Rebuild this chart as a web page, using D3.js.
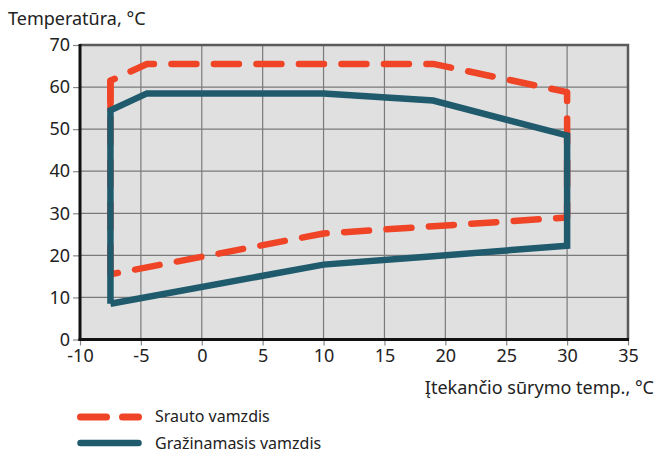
<!DOCTYPE html>
<html><head><meta charset="utf-8">
<script src="https://cdn.jsdelivr.net/npm/d3@7"></script>
<style>body{margin:0;background:#fff}svg{display:block}text{font-family:"Noto Sans",sans-serif;fill:#222}</style>
</head><body><div id="chart"></div>
<script>
const xTicks = [-10,-5,0,5,10,15,20,25,30,35];
const yTicks = [0,10,20,30,40,50,60,70];
const seriesNames = ["Srauto vamzdis","Gražinamasis vamzdis"];
const flowX = [-7.5,-7.5,-4.5,19,30,30,10,-7.5];
const flowY = [15.5,61.5,65.5,65.5,58.8,29,25.2,15.5];
const returnX = [-7.5,-7.5,-4.5,10,19,30,30,19,10,-7.5];
const returnY = [8.5,54.5,58.5,58.5,56.8,48.5,22.3,19.8,17.8,8.5];
const yTitle = "Temperatūra, °C";
const xTitle = "Įtekančio sūrymo temp., °C";

const W=657,H=457;
const svg=d3.select("#chart").append("svg").attr("width",W).attr("height",H);
const x=d3.scaleLinear().domain([-10,35]).range([80,628]);
const y=d3.scaleLinear().domain([0,70]).range([339.5,45]);
const red="#f04426", blue="#1f5a6d";

svg.append("rect").attr("x",x(-10)).attr("y",y(70)).attr("width",x(35)-x(-10)).attr("height",y(0)-y(70)).attr("fill","#e0e0e0");
// grid
svg.append("g").selectAll("line").data(xTicks.slice(1,-1)).join("line")
 .attr("x1",d=>x(d)).attr("x2",d=>x(d)).attr("y1",y(70)).attr("y2",y(0)).attr("stroke","#7a7a7a").attr("stroke-width",1.2);
svg.append("g").selectAll("line").data(yTicks.slice(1,-1)).join("line")
 .attr("y1",d=>y(d)).attr("y2",d=>y(d)).attr("x1",x(-10)).attr("x2",x(35)).attr("stroke","#7a7a7a").attr("stroke-width",1.2);
// top/right border
svg.append("path").attr("d",`M${x(-10)},${y(70)}H${x(35)}V${y(0)}`).attr("fill","none").attr("stroke","#5a5a5a").attr("stroke-width",2.5);

// axes
const ax=svg.append("g").attr("transform",`translate(0,${y(0)})`).call(d3.axisBottom(x).tickValues(xTicks).tickSize(6).tickPadding(4).tickFormat(d3.format("d")));
const ay=svg.append("g").attr("transform",`translate(${x(-10)},0)`).call(d3.axisLeft(y).tickValues(yTicks).tickSize(7).tickPadding(3));
[ax,ay].forEach(g=>{g.select(".domain").remove();g.selectAll(".tick line").attr("stroke","#888").attr("stroke-width",1.2);
 g.selectAll("text").style("font-size","18px").style("font-family","'Noto Sans',sans-serif").attr("fill","#222");});
ax.selectAll("text").text(d=>d<0?"-"+Math.abs(d):d);
svg.append("line").attr("x1",x(-10)).attr("x2",x(-10)).attr("y1",y(70)-1).attr("y2",y(0)+1.5).attr("stroke","#111").attr("stroke-width",3);
svg.append("line").attr("x1",x(-10)-1.5).attr("x2",x(35)+1).attr("y1",y(0)).attr("y2",y(0)).attr("stroke","#111").attr("stroke-width",3);

const line=d3.line().x(d=>x(d[0])).y(d=>y(d[1]));
svg.append("path").attr("d",line(flowX.map((v,i)=>[v,flowY[i]]))).attr("fill","none").attr("stroke",red)
 .attr("stroke-width",6.5).attr("stroke-linecap","round").attr("stroke-linejoin","round").attr("stroke-dasharray","25,17.5").attr("stroke-dashoffset",39.3);
// solid stub of the flow line at the left edge, above the return line
svg.append("path").attr("d",line([[flowX[1],returnY[1]],[flowX[1],flowY[1]]])).attr("fill","none").attr("stroke",red)
 .attr("stroke-width",6.5).attr("stroke-linecap","round");
svg.append("path").attr("d",line(returnX.map((v,i)=>[v,returnY[i]]))).attr("fill","none").attr("stroke",blue)
 .attr("stroke-width",6.5).attr("stroke-linejoin","miter");

svg.append("text").attr("x",8).attr("y",25).style("font-size","18px").text(yTitle);
svg.append("text").attr("x",654).attr("y",394).attr("text-anchor","end").style("font-size","18px").text(xTitle);

// legend
svg.append("line").attr("x1",80.5).attr("x2",138.5).attr("y1",417).attr("y2",417).attr("stroke",red).attr("stroke-width",7)
 .attr("stroke-linecap","round").attr("stroke-dasharray","26,16");
svg.append("line").attr("x1",80.5).attr("x2",138.5).attr("y1",443).attr("y2",443).attr("stroke",blue).attr("stroke-width",6.5).attr("stroke-linecap","round");
svg.append("text").attr("x",155).attr("y",422).style("font-size","16px").text(seriesNames[0]);
svg.append("text").attr("x",155).attr("y",449).style("font-size","16px").text(seriesNames[1]);
</script></body></html>
